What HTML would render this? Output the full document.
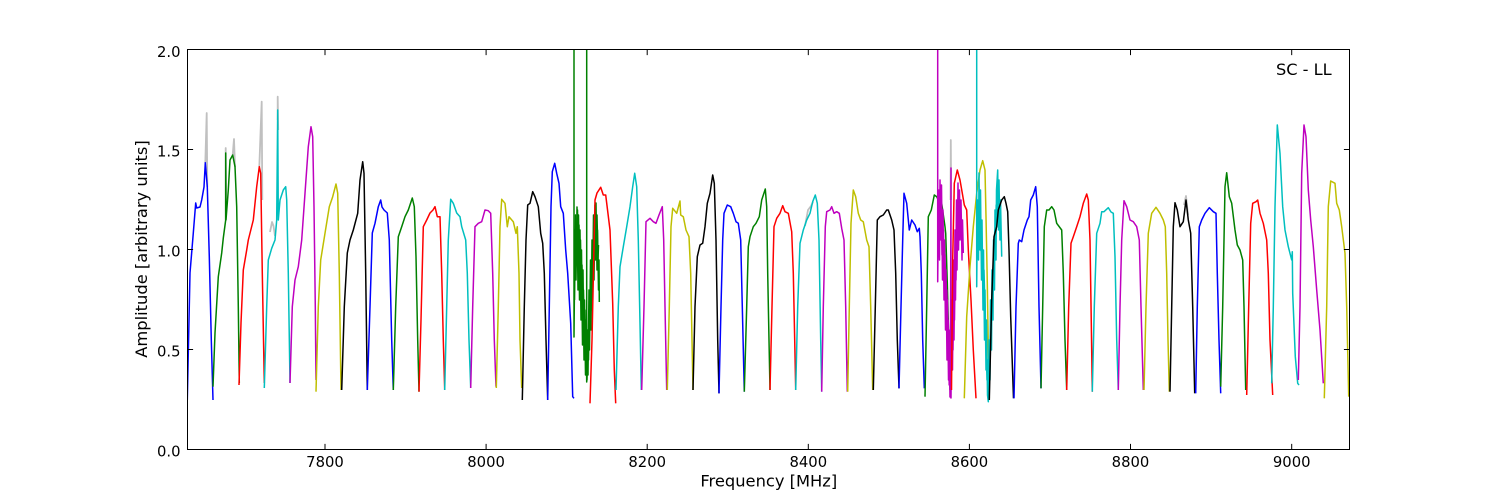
<!DOCTYPE html>
<html><head><meta charset="utf-8"><style>
html,body{margin:0;padding:0;background:#fff;}
svg{display:block;}
text{font-family:"DejaVu Sans","Liberation Sans",sans-serif;fill:#000;}
</style></head><body>
<svg width="1500" height="500" viewBox="0 0 1500 500" xmlns="http://www.w3.org/2000/svg">
<rect x="0" y="0" width="1500" height="500" fill="#fff"/>
<defs><clipPath id="c"><rect x="187.5" y="49.5" width="1162" height="400"/></clipPath></defs>
<g clip-path="url(#c)" fill="none" stroke-width="1.5" stroke-linejoin="round" stroke-linecap="butt">
<!-- gray underlying series -->
<g stroke="#c0c0c0" stroke-width="1.8">
<polyline points="205.3,163 206.7,113 207.3,187"/>
<polyline points="225.7,220 225.7,148 226.2,200"/>
<polyline points="232.7,155 234,139 235,167"/>
<polyline points="259.3,167 261.7,101.7 262.3,200"/>
<polyline points="270,232 272,222 273.5,226 275,236"/>
<polyline points="277.7,120 277.7,96.7 278.2,130"/>
<polyline points="805,226 808,210 811,206 813,202"/>
<polyline points="950.5,200 950.8,140 951.2,200"/>
<polyline points="1184,205 1186,196 1188,215"/>
</g>
<polyline stroke="#0000ff" points="187.3,400 190,273 193.3,233 195.7,203 196.7,208 200,207 201.7,200 204,187 205.3,162.7 207.3,187 209.3,256.7 211.3,340 213,400"/>
<polyline stroke="#008000" points="213,386.7 215,333 218.3,276.7 221.7,253 223.3,238 225.7,220 225.7,153 226,220 228.3,190 230,160 232.7,155 235,166.7 236.7,206.7 238.3,306.7 239.3,383"/>
<polyline stroke="#ff0000" points="239,385 241,323 243.3,270 246.7,250 248.3,240 253.3,220 256.7,186.7 259.3,166.7 260.7,173.3 262.3,273.3 264.3,383"/>
<polyline stroke="#00bfbf" points="264.3,388 266.7,306.7 268.3,260 271.7,248.3 275,240 276.7,220 277.7,110 278.3,220 280,200 283.3,190 285.7,186.7 286.7,200 288.3,273.3 290,383"/>
<polyline stroke="#bf00bf" points="290,383 292.3,306.7 295,280 298.3,266.7 301.7,240 305,193.3 308.3,146.7 311,126.7 312.7,136.7 314,206.7 315.3,306.7 316,380"/>
<polyline stroke="#bfbf00" points="316,391.7 318.3,306.7 320.7,260 325,233.3 329.3,206.7 332.7,196.7 336,184 337.7,193.3 339.3,273.3 341,390"/>
<polyline stroke="#000000" points="341.7,390 344.3,306.7 347.3,253 350,240 353.3,230 357.7,213.3 360,180 362.7,161.7 364,173.3 365.7,273.3 367.3,390"/>
<polyline stroke="#0000ff" points="367.3,390 370,306.7 372.3,233 375,223.3 378.3,206.7 380.7,200 382,207 384,210 387.3,213 389.3,240 391.7,340 393.3,390"/>
<polyline stroke="#008000" points="393.3,390 395.7,306.7 398.3,236.7 401.7,226.7 405,216.7 408.3,210 412.3,198 414.3,206.7 416,256.7 417.7,340 419,391.7"/>
<polyline stroke="#ff0000" points="419,391.7 421,320 423.3,226.7 426.7,220 430,213 433,210 435,206.7 437.3,216.7 440,216.7 441.7,273.3 443.3,340 444.7,390"/>
<polyline stroke="#00bfbf" points="444.7,390 446.7,306.7 448.3,240 450.7,199.3 453.3,203.3 456.7,213 460,216.7 461.7,226.7 465.7,240 467.3,273.3 469,340 470.7,388"/>
<polyline stroke="#bf00bf" points="470.7,388 472.7,306.7 475,226.7 478.3,223.3 481.7,221.7 485,210 488.3,210.7 490.7,213.3 492.7,273.3 494.3,340 496,386.7"/>
<polyline stroke="#bfbf00" points="496.3,388 498.3,306.7 500,226.7 501.7,199.3 505,203.3 507.3,226.7 509,216.7 513.3,221.7 516,233.3 517.3,226.7 519,273.3 520,340 521.7,388"/>
<polyline stroke="#000000" points="522.3,400 524.3,306.7 526,240 527.7,205 530,203.3 532.7,191.7 535,196.7 538.3,206.7 540.7,233.3 542.7,243.3 544.3,273.3 546,340 547.7,400"/>
<polyline stroke="#0000ff" points="547.7,400 549.3,306.7 551,206.7 552.3,171.7 554.7,163.3 556.7,173.3 559,183.3 560.7,206.7 563.3,213.3 565.7,250 567.7,273.3 570.7,323.3 572.7,396.7 574,398.3"/>
<polyline stroke="#008000" points="574,40 574,337 575,230 576,280 577,207 578,290 578.5,215 579.5,300 580,230 581,320 581.5,250 582.5,345 583,270 584,360 584.5,300 585.5,375 586,320 586.7,382 586.7,40 586.7,370 587.5,330 588,375 589,290 589.5,350 590.5,260 591,330 592,240 592.5,300 593.5,215 594,280 595,205 595.5,260 596,203 597,270 597.5,230 598.5,290 599,260 599.3,302"/>
<polyline stroke="#008000" points="574.5,300 575.5,215 576.5,260 577.5,210 578,250 579,225 580,280 580.5,240 581.5,300 582,265 583,335 583.5,290 584.5,345 585,310 586,372 586.3,340 587,380 588,340 588.5,360 589.5,300 590,330 591,275 591.5,310 592.5,250 593,280 594,225 594.5,255 595.5,215 596.5,240 597,215 598,260 598.5,245"/>
<polyline stroke="#ff0000" points="590,403.3 592,340 595,200 597,193 600.7,187.3 603.3,195 605.7,195 610,230 612.7,303.3 614.3,370 615.7,403.3"/>
<polyline stroke="#00bfbf" points="616,390 618.3,306.7 620,266.7 623.3,246.7 626.7,226.7 630,206.7 632.7,186.7 634.7,173.3 636.7,186.7 638.3,240 640,323.3 641.3,390"/>
<polyline stroke="#bf00bf" points="641.7,390 644,306.7 646,221.7 650,218.3 653.3,221.7 656,223.3 659,215 662.3,206.7 663.7,240 665,306.7 666.7,390"/>
<polyline stroke="#bfbf00" points="667.3,390 669.3,306.7 671,226.7 672.7,208.3 676.7,213.3 680,201 680.7,215 683.3,216.7 686,230 689,236.7 690.7,273.3 692,340 693,390"/>
<polyline stroke="#000000" points="693,390 695,306.7 697.3,256.7 700,245 702.7,243.3 705,226.7 707.3,203.3 710,193.3 712.7,175 714.3,183.3 716,240 717.7,340 719,393.3"/>
<polyline stroke="#0000ff" points="719,393.3 721,306.7 722.7,240 724,213.3 727.3,205 730.7,206.7 733.3,213.3 736,221.7 738.3,223.3 740.7,240 742.3,306.7 744.3,391.7"/>
<polyline stroke="#008000" points="744.3,391.7 746.7,306.7 748.3,246.7 750,236.7 753.3,226.7 756,223.3 759.3,216.7 761.7,200 765.3,189 766.7,206.7 767.7,273.3 769,340 770,390"/>
<polyline stroke="#ff0000" points="770,390 772,306.7 774,226.7 776.7,218.3 780,213.3 782.7,205.7 785,211.7 788.3,213.3 791.7,231.7 793.3,273.3 794.7,340 795.7,390"/>
<polyline stroke="#00bfbf" points="795.7,390 797.7,306.7 800,243.3 803.3,230 806.7,220 810,213.3 812.7,201.7 815.3,195 817.3,203.3 819,240 820.7,340 821.7,391.7"/>
<polyline stroke="#bf00bf" points="821.7,391.7 823.3,306.7 825.3,226.7 826.7,211.7 830,210 831.7,206.7 834,213.3 836.7,211.7 839.3,213.3 841.7,228.3 844,240 845.7,306.7 847.3,391.7"/>
<polyline stroke="#bfbf00" points="847.7,391.7 849.3,306.7 851,223.3 853.3,190 855.7,196.7 858.3,213.3 860.7,220 863.3,221.7 866.7,240 869,246.7 870.7,306.7 872.7,390"/>
<polyline stroke="#000000" points="873.3,390 875.3,306.7 877.3,220 880,216.7 883.3,215 886.7,210 888.3,210 891.7,220 894,230 895.7,273.3 897.3,340 899,388.3"/>
<polyline stroke="#0000ff" points="899,388.3 901,306.7 902.7,240 904,193.3 906.7,203.3 909.3,230 911.7,220 915,225 917.3,231.7 919.3,228.3 920,236.7 921.3,273.3 922.7,340 924.3,388.3"/>
<polyline stroke="#008000" points="925,396.7 926.7,306.7 928.3,216.7 931.3,210 934.3,195 936.7,196.7 938.3,200 941.7,203.3 945,226.7 945.7,233.3 947.3,283 949,350 950,390"/>
<polyline stroke="#bf00bf" points="937.7,40 937.7,281.7 938.5,200 939.5,260 940,180 941,240 941.5,185 942.5,280 943,210 944,300 944.5,240 945.5,330 946,270 947,360 947.5,300 948.5,380 949,330 950,397 950.5,340 951,168 951,398 952,300 952.5,370 953.5,260 954,340 955,230 955.5,300 956.5,200 957,270 958,183 958.5,250 959.5,190 960,240 961,200 962,260 962.5,220 963.3,253"/>
<polyline stroke="#bf00bf" points="938.2,240 939,190 940.5,230 941.2,200 942,255 943.5,230 944.2,280 945,255 946.3,320 946.8,290 947.8,350 948.2,320 949.2,385 949.7,350 950.3,395 951.5,360 952.3,330 953,350 953.8,290 954.5,320 955.3,250 956,280 956.8,215 957.5,250 958.3,200 959,230 960.5,215 961.5,240 962.3,230"/>
<polyline stroke="#ff0000" points="951.5,390 952.7,260 954.3,183.3 957.3,170 960,180 962.3,193.3 964.3,205 966.7,210 968.3,250 971,300 973.3,350 976,398.3"/>
<polyline stroke="#bfbf00" points="964.3,398.3 966.7,316.7 970,266.7 973.3,226.7 976.7,193.3 980,170 982.7,160.7 985,170 986,216.7 987.3,283.3 988.3,350 989.3,398.3"/>
<polyline stroke="#00bfbf" points="976.7,40 976.7,286.7 977.5,200 978.5,260 979,173 980,250 980.5,190 981.5,280 982,220 983,310 983.5,250 984.5,340 985,290 986,370 986.5,320 987.5,395 988.3,401.7 989,340 990,380 990.5,300 991.5,350 992,270 993,320 993.5,240 994.5,290 995,210 996,260 996.5,190 997.7,170 998.5,230 999,180 1000,240 1000.5,200 1001.7,256.7"/>
<polyline stroke="#00bfbf" points="977.2,250 978,210 979.5,230 980.2,200 981,250 982.5,260 983.2,290 984,270 985.5,330 986.2,350 987,380 987.8,360 988.7,395 989.5,360 990.2,335 991,320 991.8,300 992.5,285 993.3,265 994,255 994.8,230 995.5,235 996.2,205 997,215 998,190 999.5,210 1000.3,220 1001,235"/>
<polyline stroke="#000000" points="989.3,400 991.7,300 994,236.7 996.7,226.7 998.3,210 1001.7,200 1004.3,196.7 1006,203.3 1007.7,211.7 1009,250 1010.7,316.7 1013.5,398.3"/>
<polyline stroke="#0000ff" points="1014,398.3 1016,306.7 1018.3,243.3 1019.3,240 1021.7,241.7 1024,230 1027.3,220 1029,216.7 1030.7,200 1033.3,195 1035.7,186.7 1037.3,206.7 1039,306.7 1041,388.3"/>
<polyline stroke="#008000" points="1041,388.3 1042.7,306.7 1044.3,226.7 1046.7,210 1049,210 1051.7,206.7 1054,210 1056.7,223.3 1061.7,230 1063.3,273.3 1065,340 1066.7,390"/>
<polyline stroke="#ff0000" points="1066.7,390 1068.7,306.7 1071,243.3 1073.3,236.7 1076.7,226.7 1080,216.7 1083.3,203.3 1086.7,194 1088.3,200 1090,240 1091.3,323.3 1092.3,391.7"/>
<polyline stroke="#00bfbf" points="1092.3,391.7 1094.3,306.7 1096.7,233.3 1100,223.3 1101.7,211.7 1104,211.7 1108.3,207.7 1111,212 1113.3,213.3 1115,256.7 1116.7,340 1118.3,390"/>
<polyline stroke="#bf00bf" points="1118.3,390 1120,306.7 1121.7,240 1124,200.7 1126.7,206.7 1130,220 1133.3,221.7 1136.7,226.7 1139.3,240 1141,306.7 1143.3,390"/>
<polyline stroke="#bfbf00" points="1144,390 1146,306.7 1148.3,233.3 1151.7,213.3 1156,207.3 1160,213.3 1163.3,220 1165.3,226.7 1166.7,273.3 1168,340 1169.3,391.7"/>
<polyline stroke="#000000" points="1170,391.7 1171.7,306.7 1173.3,226.7 1175,202.7 1177.3,210 1180,226.7 1183.3,221.7 1186,200 1188.3,220 1190.7,233.3 1192.7,306.7 1194.7,393.3"/>
<polyline stroke="#0000ff" points="1195.7,393.3 1197.3,306.7 1199.3,226.7 1201.7,220 1205,213.3 1209.3,207.7 1213.3,211.7 1216,213.3 1217.3,273.3 1219,340 1220.7,393.3"/>
<polyline stroke="#008000" points="1220.7,386.7 1222.7,306.7 1224,240 1225,186.7 1226.7,172.7 1229.3,196.7 1231.7,203.3 1235,230 1237.3,245 1240,250 1242.7,260 1244,306.7 1245.7,390"/>
<polyline stroke="#ff0000" points="1246.7,395 1248.7,306.7 1250.7,223.3 1252.7,203.3 1256,201.7 1257.7,200 1260,213.3 1263.3,223.3 1266.7,240 1268.3,273.3 1270,340 1272.7,395"/>
<polyline stroke="#00bfbf" points="1271.7,383.3 1273.3,306.7 1275,206.7 1277.3,125 1280,153.3 1282.7,206.7 1285,230 1288.3,246.7 1291.7,260 1292.3,251.7 1292.7,293.3 1295.3,356.7 1297.7,383.3 1299,385"/>
<polyline stroke="#bf00bf" points="1298.3,380 1300,306.7 1301.7,173.3 1304,125 1306,136.7 1308.3,190 1310.7,220 1313.3,246.7 1316.7,290 1320,330 1323.3,383.3"/>
<polyline stroke="#bfbf00" points="1324.3,398.3 1326.7,306.7 1328.3,206.7 1330.7,181 1335,183.3 1336.7,203.3 1339.3,210 1341.7,226.7 1345,253.3 1346.7,306.7 1348.7,396.7"/>
</g>
<!-- frame -->
<rect x="187.5" y="49.5" width="1162" height="400" fill="none" stroke="#000" stroke-width="1"/>
<!-- ticks -->
<g stroke="#000" stroke-width="1">
<path d="M325,449.5V443.9 M486.1,449.5V443.9 M647.2,449.5V443.9 M808.3,449.5V443.9 M969.4,449.5V443.9 M1130.5,449.5V443.9 M1291.7,449.5V443.9"/>
<path d="M325,49.5V55.1 M486.1,49.5V55.1 M647.2,49.5V55.1 M808.3,49.5V55.1 M969.4,49.5V55.1 M1130.5,49.5V55.1 M1291.7,49.5V55.1"/>
<path d="M187.5,149.5H193.1 M187.5,249.5H193.1 M187.5,349.5H193.1"/>
<path d="M1349.5,149.5H1343.9 M1349.5,249.5H1343.9 M1349.5,349.5H1343.9"/>
</g>
<!-- tick labels -->
<g font-size="14.8" text-anchor="middle">
<text x="325" y="467">7800</text>
<text x="486.1" y="467">8000</text>
<text x="647.2" y="467">8200</text>
<text x="808.3" y="467">8400</text>
<text x="969.4" y="467">8600</text>
<text x="1130.5" y="467">8800</text>
<text x="1291.7" y="467">9000</text>
</g>
<g font-size="14.8" text-anchor="end">
<text x="180.5" y="57">2.0</text>
<text x="180.5" y="156.5">1.5</text>
<text x="180.5" y="256.5">1.0</text>
<text x="180.5" y="356.5">0.5</text>
<text x="180.5" y="456.3">0.0</text>
</g>
<text x="768.8" y="486.7" font-size="16.3" text-anchor="middle">Frequency [MHz]</text>
<text transform="translate(147,249) rotate(-90)" font-size="16.3" text-anchor="middle">Amplitude [arbitrary units]</text>
<text x="1331.7" y="75" font-size="16.2" text-anchor="end">SC - LL</text>
</svg>
</body></html>
